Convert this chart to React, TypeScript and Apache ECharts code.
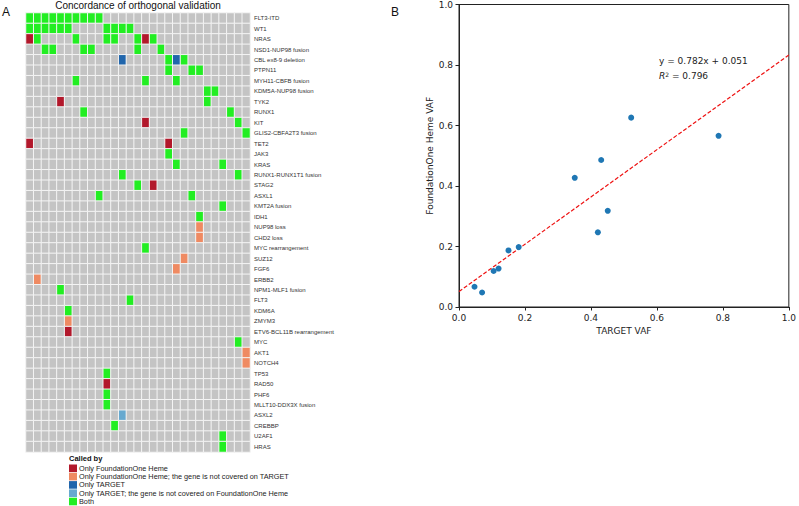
import React, { useEffect, useRef } from "react";
import * as echarts from "echarts";

// ---------------- Data ----------------
const genes = [
  "FLT3-ITD", "WT1", "NRAS", "NSD1-NUP98 fusion", "CBL ex8-9 deletion", "PTPN11",
  "MYH11-CBFB fusion", "KDM5A-NUP98 fusion", "TYK2", "RUNX1", "KIT", "GLIS2-CBFA2T3 fusion",
  "TET2", "JAK3", "KRAS", "RUNX1-RUNX1T1 fusion", "STAG2", "ASXL1", "KMT2A fusion", "IDH1",
  "NUP98 loss", "CHD2 loss", "MYC rearrangement", "SUZ12", "FGF6", "ERBB2", "NPM1-MLF1 fusion",
  "FLT3", "KDM6A", "ZMYM3", "ETV6-BCL11B rearrangement", "MYC", "AKT1", "NOTCH4", "TP53",
  "RAD50", "PHF6", "MLLT10-DDX3X fusion", "ASXL2", "CREBBP", "U2AF1", "HRAS",
];

const samples = [
  "P01", "P02", "P03", "P04", "P05", "P06", "P07", "P08", "P09", "P10",
  "P11", "P12", "P13", "P14", "P15", "P16", "P17", "P18", "P19", "P20",
  "P21", "P22", "P23", "P24", "P25", "P26", "P27", "P28", "P29",
];

// sample indices per gene, by calling category
const calledBoth: Record<string, number[]> = {
  "FLT3-ITD": [0, 1, 2, 3, 4, 5, 6, 7, 8, 9],
  "WT1": [0, 1, 2, 3, 4, 5, 10, 11, 12, 13],
  "NRAS": [1, 6, 10, 11, 14, 16],
  "NSD1-NUP98 fusion": [2, 3, 7, 8, 14, 17],
  "CBL ex8-9 deletion": [18, 20],
  "PTPN11": [18, 21, 22],
  "MYH11-CBFB fusion": [6, 15, 19],
  "KDM5A-NUP98 fusion": [23, 24],
  "TYK2": [23],
  "RUNX1": [7, 26],
  "KIT": [27],
  "GLIS2-CBFA2T3 fusion": [20, 28],
  "JAK3": [18],
  "KRAS": [19, 25],
  "RUNX1-RUNX1T1 fusion": [12, 27],
  "STAG2": [14],
  "ASXL1": [9, 21],
  "KMT2A fusion": [25],
  "IDH1": [22],
  "MYC rearrangement": [15],
  "NPM1-MLF1 fusion": [4],
  "FLT3": [13],
  "KDM6A": [5],
  "MYC": [27],
  "TP53": [10],
  "PHF6": [10],
  "MLLT10-DDX3X fusion": [10],
  "CREBBP": [11],
  "U2AF1": [25],
  "HRAS": [25],
};
const calledOnlyF1: Record<string, number[]> = {
  "NRAS": [0, 15],
  "TYK2": [4],
  "KIT": [15],
  "TET2": [0, 18],
  "STAG2": [16],
  "ETV6-BCL11B rearrangement": [5],
  "RAD50": [10],
};
const calledOnlyF1NotCovered: Record<string, number[]> = {
  "NUP98 loss": [22],
  "CHD2 loss": [22],
  "SUZ12": [20],
  "FGF6": [19],
  "ERBB2": [1],
  "ZMYM3": [5],
  "AKT1": [28],
  "NOTCH4": [28],
};
const calledOnlyTarget: Record<string, number[]> = {
  "CBL ex8-9 deletion": [12, 19],
};
const calledOnlyTargetNotCovered: Record<string, number[]> = {
  "ASXL2": [12],
};

const legendLabels = [
  "Only FoundationOne Heme",
  "Only FoundationOne Heme; the gene is not covered on TARGET",
  "Only TARGET",
  "Only TARGET; the gene is not covered on FoundationOne Heme",
  "Both",
];

// Scatter (panel B)
const targetVaf = [0.047, 0.07, 0.105, 0.12, 0.15, 0.181, 0.351, 0.421, 0.431, 0.451, 0.522, 0.787];
const foundationVaf = [0.067, 0.048, 0.119, 0.127, 0.187, 0.198, 0.427, 0.247, 0.486, 0.318, 0.626, 0.566];
const fitSlope = 0.782;
const fitIntercept = 0.051;
const fitR2 = 0.796;
const axisTicks = [0, 0.2, 0.4, 0.6, 0.8, 1.0];

// ---------------- Styles ----------------
const GRAY = "#c4c4c4";
const COLORS = ["#b2182b", "#ef8a62", "#2166ac", "#67a9cf", "#22ee22"];
const SANS = "'Liberation Sans', Arial, Helvetica, sans-serif";
const MPL = "'DejaVu Sans', sans-serif";

export default function App() {
  const ref = useRef<HTMLDivElement>(null);

  useEffect(() => {
    if (!ref.current) return;
    const chart = echarts.init(ref.current, undefined, { renderer: "svg" });

    const categories = [calledOnlyF1, calledOnlyF1NotCovered, calledOnlyTarget, calledOnlyTargetNotCovered, calledBoth];
    const cellValue = (g: string, s: number) => {
      for (let k = 0; k < categories.length; k++) {
        const list = categories[k][g];
        if (list && list.includes(s)) return k + 1;
      }
      return 0;
    };
    const heatData: number[][] = [];
    genes.forEach((g, r) => {
      samples.forEach((_, c) => {
        heatData.push([c, r, cellValue(g, c)]);
      });
    });

    const scatterData = targetVaf.map((x, i) => [x, foundationVaf[i]]);
    const fitData = [0, 1].map((x) => [x, fitSlope * x + fitIntercept]);

    const legendGraphics: any[] = [
      {
        type: "text",
        left: 69,
        top: 454,
        style: { text: "Called by", font: `bold 7.5px ${SANS}`, fill: "#111" },
      },
    ];
    legendLabels.forEach((lab, i) => {
      const cy = 468.3 + i * 8.3;
      legendGraphics.push({
        type: "rect",
        shape: { x: 69, y: cy - 3.8, width: 8, height: 7.6 },
        style: { fill: COLORS[i] },
      });
      legendGraphics.push({
        type: "text",
        x: 79,
        y: cy,
        style: { text: lab, font: `7.3px ${SANS}`, fill: "#222", textVerticalAlign: "middle" },
      });
    });

    const valueAxis = (gridIndex: number, name: string, gap: number) => ({
      type: "value",
      gridIndex,
      min: 0,
      max: 1,
      interval: 0.2,
      name,
      nameLocation: "middle",
      nameGap: gap,
      nameTextStyle: { fontFamily: MPL, fontSize: 9, color: "#222" },
      axisLine: { show: true, onZero: false, lineStyle: { color: "#222", width: 1 } },
      axisTick: { show: true, inside: false, length: 3.5, lineStyle: { color: "#222" } },
      axisLabel: {
        fontFamily: MPL,
        fontSize: 9,
        color: "#222",
        margin: 6,
        formatter: (v: number) => (axisTicks.includes(v) ? v.toFixed(1) : ""),
      },
      splitLine: { show: false },
    });

    chart.setOption({
      animation: false,
      backgroundColor: "#fff",
      grid: [
        { left: 26, top: 13, width: 224, height: 439, show: false },
        { left: 459, top: 3, width: 333, height: 304, show: true, borderColor: "#222", borderWidth: 1, backgroundColor: "transparent" },
      ],
      xAxis: [
        { type: "category", gridIndex: 0, data: samples, show: false },
        valueAxis(1, "TARGET VAF", 16),
      ],
      yAxis: [
        {
          type: "category",
          gridIndex: 0,
          data: genes,
          inverse: true,
          position: "right",
          axisLine: { show: false },
          axisTick: { show: false },
          splitLine: { show: false },
          axisLabel: { fontFamily: SANS, fontSize: 6, color: "#333", margin: 4 },
        },
        valueAxis(1, "FoundationOne Heme VAF", 24),
      ],
      visualMap: {
        type: "piecewise",
        show: false,
        seriesIndex: 0,
        dimension: 2,
        pieces: [
          { value: 0, color: GRAY },
          { value: 1, color: COLORS[0] },
          { value: 2, color: COLORS[1] },
          { value: 3, color: COLORS[2] },
          { value: 4, color: COLORS[3] },
          { value: 5, color: COLORS[4] },
        ],
      },
      series: [
        {
          type: "heatmap",
          xAxisIndex: 0,
          yAxisIndex: 0,
          data: heatData,
          itemStyle: { borderColor: "#f4f4f4", borderWidth: 1 },
          emphasis: { disabled: true },
        },
        {
          type: "line",
          xAxisIndex: 1,
          yAxisIndex: 1,
          data: fitData,
          showSymbol: false,
          lineStyle: { color: "#ee1111", width: 1.2, type: [4, 2] },
          z: 2,
        },
        {
          type: "scatter",
          xAxisIndex: 1,
          yAxisIndex: 1,
          data: scatterData,
          symbolSize: 6,
          itemStyle: { color: "#1f77b4", opacity: 1 },
          z: 3,
        },
      ],
      graphic: [
        { type: "text", left: 2, top: 6, style: { text: "A", font: `12px ${SANS}`, fill: "#111" } },
        { type: "text", left: 391, top: 6, style: { text: "B", font: `12px ${SANS}`, fill: "#111" } },
        {
          type: "text",
          x: 138,
          y: 5,
          style: {
            text: "Concordance of orthogonal validation",
            font: `10px ${SANS}`,
            fill: "#111",
            textAlign: "center",
            textVerticalAlign: "middle",
          },
        },
        {
          type: "text",
          x: 659,
          y: 61,
          style: {
            text: `y = ${fitSlope}x + ${fitIntercept}`,
            font: `9px ${MPL}`,
            fill: "#222",
            textVerticalAlign: "middle",
          },
        },
        {
          type: "text",
          x: 659,
          y: 76,
          style: {
            text: `{i|R}{s|2}{n| = ${fitR2}}`,
            textVerticalAlign: "middle",
            rich: {
              i: { fontFamily: MPL, fontSize: 9, fontStyle: "italic", fill: "#222", color: "#222" },
              s: { fontFamily: MPL, fontSize: 6, fill: "#222", color: "#222", verticalAlign: "top", padding: [0, 0, 4, 0] },
              n: { fontFamily: MPL, fontSize: 9, fill: "#222", color: "#222" },
            },
          },
        },
        ...legendGraphics,
      ],
    });

    return () => chart.dispose();
  }, []);

  return <div ref={ref} style={{ width: 799, height: 506, position: "absolute", left: 0, top: 0 }} />;
}
